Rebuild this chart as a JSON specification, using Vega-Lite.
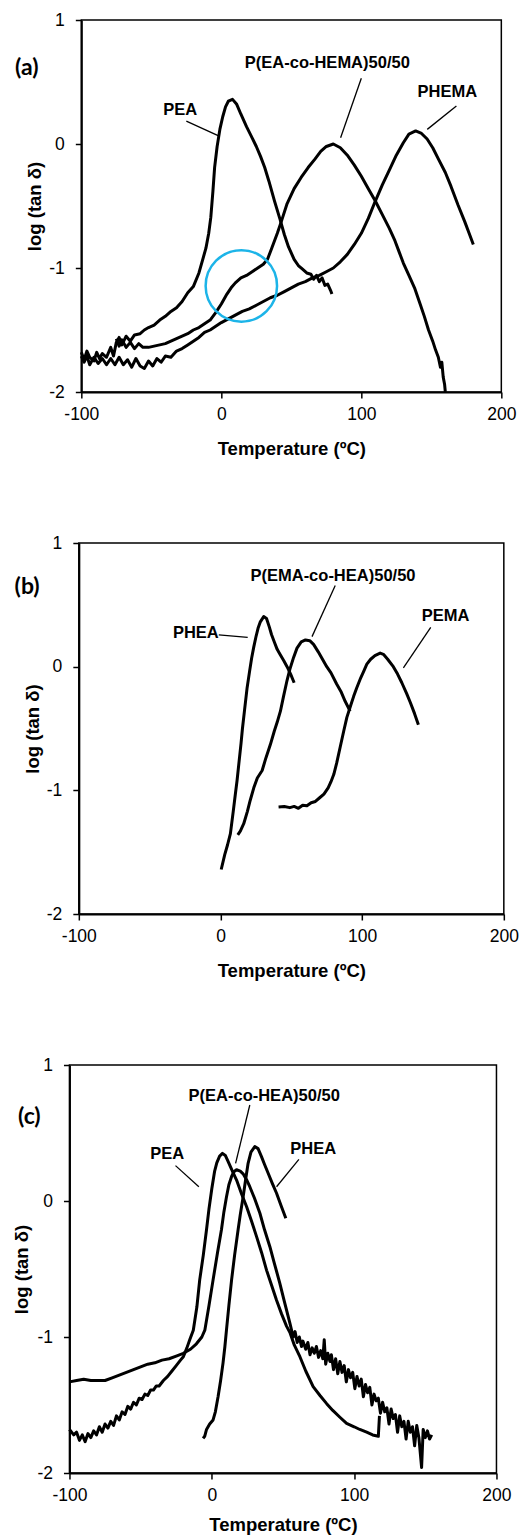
{
"$schema": "https://vega.github.io/schema/vega-lite/v6.json",
"padding": {"left": 12, "top": 10, "right": 2, "bottom": 0},
"spacing": 74,
"center": true,
"config": {
 "view": {"stroke": "black", "strokeWidth": 1.5},
 "axis": {"grid": false, "domainColor": "black", "domainWidth": 2, "tickColor": "black", "tickWidth": 1.5, "tickSize": 6, "labelFont": "Liberation Sans", "labelFontSize": 17.5, "labelColor": "black", "labelFlush": false, "labelOverlap": false, "labelExpr": "'' + datum.value", "titleFont": "Liberation Sans", "titleFontSize": 18.5, "titleFontWeight": "bold", "titleColor": "black"},
 "axisX": {"labelPadding": 7, "titlePadding": 17},
 "axisY": {"labelPadding": 11, "titlePadding": 4}
},
"datasets": {
 "A": [
  {"s":"PEA","x":-100,"y":-1.68},{"s":"PEA","x":-98,"y":-1.74},{"s":"PEA","x":-96,"y":-1.67},{"s":"PEA","x":-94,"y":-1.72},{"s":"PEA","x":-91,"y":-1.75},{"s":"PEA","x":-89,"y":-1.68},{"s":"PEA","x":-87,"y":-1.73},{"s":"PEA","x":-85,"y":-1.69},{"s":"PEA","x":-82,"y":-1.72},{"s":"PEA","x":-79,"y":-1.64},{"s":"PEA","x":-77,"y":-1.71},{"s":"PEA","x":-75,"y":-1.60},{"s":"PEA","x":-73,"y":-1.56},{"s":"PEA","x":-71,"y":-1.62},{"s":"PEA","x":-68,"y":-1.55},{"s":"PEA","x":-65,"y":-1.59},{"s":"PEA","x":-62,"y":-1.54},{"s":"PEA","x":-58,"y":-1.53},{"s":"PEA","x":-55,"y":-1.50},{"s":"PEA","x":-52,"y":-1.48},{"s":"PEA","x":-48,"y":-1.46},{"s":"PEA","x":-44,"y":-1.42},{"s":"PEA","x":-40,"y":-1.39},{"s":"PEA","x":-36,"y":-1.35},{"s":"PEA","x":-32,"y":-1.32},{"s":"PEA","x":-28,"y":-1.27},{"s":"PEA","x":-24,"y":-1.20},{"s":"PEA","x":-20,"y":-1.15},{"s":"PEA","x":-16,"y":-1.04},{"s":"PEA","x":-13,"y":-0.92},{"s":"PEA","x":-11,"y":-0.84},{"s":"PEA","x":-9,"y":-0.72},{"s":"PEA","x":-7.5,"y":-0.59},{"s":"PEA","x":-6,"y":-0.38},{"s":"PEA","x":-4.8,"y":-0.19},{"s":"PEA","x":-3,"y":-0.02},{"s":"PEA","x":-1,"y":0.12},{"s":"PEA","x":1,"y":0.22},{"s":"PEA","x":3,"y":0.30},{"s":"PEA","x":5,"y":0.345},{"s":"PEA","x":8,"y":0.36},{"s":"PEA","x":11,"y":0.32},{"s":"PEA","x":14,"y":0.24},{"s":"PEA","x":18,"y":0.14},{"s":"PEA","x":22,"y":0.05},{"s":"PEA","x":25,"y":-0.02},{"s":"PEA","x":28,"y":-0.10},{"s":"PEA","x":31,"y":-0.19},{"s":"PEA","x":34,"y":-0.30},{"s":"PEA","x":38,"y":-0.46},{"s":"PEA","x":42,"y":-0.61},{"s":"PEA","x":45,"y":-0.73},{"s":"PEA","x":48,"y":-0.83},{"s":"PEA","x":52,"y":-0.93},{"s":"PEA","x":55,"y":-0.98},{"s":"PEA","x":58,"y":-1.01},{"s":"PEA","x":61,"y":-1.04},{"s":"PEA","x":64,"y":-1.05},{"s":"PEA","x":66,"y":-1.09},{"s":"PEA","x":68,"y":-1.06},{"s":"PEA","x":70,"y":-1.11},{"s":"PEA","x":72,"y":-1.08},{"s":"PEA","x":74,"y":-1.14},{"s":"PEA","x":76,"y":-1.13},{"s":"PEA","x":78,"y":-1.18},{"s":"PEA","x":79,"y":-1.21},
  {"s":"CO","x":-75,"y":-1.57},{"s":"CO","x":-73,"y":-1.63},{"s":"CO","x":-71,"y":-1.58},{"s":"CO","x":-68,"y":-1.64},{"s":"CO","x":-65,"y":-1.60},{"s":"CO","x":-62,"y":-1.65},{"s":"CO","x":-59,"y":-1.61},{"s":"CO","x":-56,"y":-1.64},{"s":"CO","x":-52,"y":-1.64},{"s":"CO","x":-48,"y":-1.63},{"s":"CO","x":-44,"y":-1.62},{"s":"CO","x":-40,"y":-1.61},{"s":"CO","x":-36,"y":-1.59},{"s":"CO","x":-32,"y":-1.57},{"s":"CO","x":-28,"y":-1.55},{"s":"CO","x":-24,"y":-1.53},{"s":"CO","x":-20,"y":-1.50},{"s":"CO","x":-16,"y":-1.48},{"s":"CO","x":-12,"y":-1.45},{"s":"CO","x":-8,"y":-1.42},{"s":"CO","x":-4,"y":-1.36},{"s":"CO","x":0,"y":-1.29},{"s":"CO","x":4,"y":-1.21},{"s":"CO","x":7,"y":-1.16},{"s":"CO","x":10,"y":-1.12},{"s":"CO","x":14,"y":-1.08},{"s":"CO","x":18,"y":-1.06},{"s":"CO","x":22,"y":-1.03},{"s":"CO","x":26,"y":-1.00},{"s":"CO","x":30,"y":-0.97},{"s":"CO","x":33,"y":-0.93},{"s":"CO","x":36,"y":-0.84},{"s":"CO","x":40,"y":-0.72},{"s":"CO","x":43,"y":-0.62},{"s":"CO","x":47,"y":-0.48},{"s":"CO","x":52,"y":-0.36},{"s":"CO","x":57,"y":-0.27},{"s":"CO","x":62,"y":-0.19},{"s":"CO","x":67,"y":-0.12},{"s":"CO","x":71,"y":-0.06},{"s":"CO","x":75,"y":-0.02},{"s":"CO","x":80,"y":0.0},{"s":"CO","x":85,"y":-0.03},{"s":"CO","x":90,"y":-0.09},{"s":"CO","x":95,"y":-0.17},{"s":"CO","x":100,"y":-0.26},{"s":"CO","x":105,"y":-0.36},{"s":"CO","x":110,"y":-0.46},{"s":"CO","x":115,"y":-0.57},{"s":"CO","x":120,"y":-0.68},{"s":"CO","x":124,"y":-0.78},{"s":"CO","x":127,"y":-0.87},{"s":"CO","x":130,"y":-0.96},{"s":"CO","x":134,"y":-1.06},{"s":"CO","x":138,"y":-1.16},{"s":"CO","x":142,"y":-1.29},{"s":"CO","x":145,"y":-1.39},{"s":"CO","x":148,"y":-1.50},{"s":"CO","x":151,"y":-1.59},{"s":"CO","x":153,"y":-1.66},{"s":"CO","x":155,"y":-1.72},{"s":"CO","x":156.5,"y":-1.80},{"s":"CO","x":157.5,"y":-1.76},{"s":"CO","x":158.5,"y":-1.88},{"s":"CO","x":159.5,"y":-1.94},{"s":"CO","x":160,"y":-2.0},
  {"s":"PHEMA","x":-100,"y":-1.71},{"s":"PHEMA","x":-98,"y":-1.76},{"s":"PHEMA","x":-96,"y":-1.71},{"s":"PHEMA","x":-94,"y":-1.78},{"s":"PHEMA","x":-91,"y":-1.72},{"s":"PHEMA","x":-88,"y":-1.77},{"s":"PHEMA","x":-85,"y":-1.73},{"s":"PHEMA","x":-82,"y":-1.78},{"s":"PHEMA","x":-79,"y":-1.73},{"s":"PHEMA","x":-76,"y":-1.78},{"s":"PHEMA","x":-73,"y":-1.72},{"s":"PHEMA","x":-70,"y":-1.78},{"s":"PHEMA","x":-67,"y":-1.74},{"s":"PHEMA","x":-64,"y":-1.80},{"s":"PHEMA","x":-61,"y":-1.73},{"s":"PHEMA","x":-58,"y":-1.79},{"s":"PHEMA","x":-55,"y":-1.81},{"s":"PHEMA","x":-52,"y":-1.75},{"s":"PHEMA","x":-49,"y":-1.79},{"s":"PHEMA","x":-46,"y":-1.73},{"s":"PHEMA","x":-43,"y":-1.76},{"s":"PHEMA","x":-40,"y":-1.71},{"s":"PHEMA","x":-36,"y":-1.72},{"s":"PHEMA","x":-32,"y":-1.67},{"s":"PHEMA","x":-28,"y":-1.65},{"s":"PHEMA","x":-24,"y":-1.62},{"s":"PHEMA","x":-20,"y":-1.59},{"s":"PHEMA","x":-16,"y":-1.56},{"s":"PHEMA","x":-12,"y":-1.52},{"s":"PHEMA","x":-8,"y":-1.50},{"s":"PHEMA","x":-4,"y":-1.47},{"s":"PHEMA","x":0,"y":-1.44},{"s":"PHEMA","x":5,"y":-1.41},{"s":"PHEMA","x":10,"y":-1.38},{"s":"PHEMA","x":15,"y":-1.35},{"s":"PHEMA","x":20,"y":-1.33},{"s":"PHEMA","x":25,"y":-1.30},{"s":"PHEMA","x":30,"y":-1.27},{"s":"PHEMA","x":35,"y":-1.24},{"s":"PHEMA","x":40,"y":-1.22},{"s":"PHEMA","x":45,"y":-1.19},{"s":"PHEMA","x":50,"y":-1.16},{"s":"PHEMA","x":55,"y":-1.13},{"s":"PHEMA","x":60,"y":-1.11},{"s":"PHEMA","x":65,"y":-1.08},{"s":"PHEMA","x":70,"y":-1.06},{"s":"PHEMA","x":75,"y":-1.03},{"s":"PHEMA","x":80,"y":-1.0},{"s":"PHEMA","x":85,"y":-0.95},{"s":"PHEMA","x":90,"y":-0.89},{"s":"PHEMA","x":95,"y":-0.81},{"s":"PHEMA","x":100,"y":-0.72},{"s":"PHEMA","x":105,"y":-0.60},{"s":"PHEMA","x":110,"y":-0.46},{"s":"PHEMA","x":115,"y":-0.33},{"s":"PHEMA","x":120,"y":-0.21},{"s":"PHEMA","x":125,"y":-0.09},{"s":"PHEMA","x":130,"y":0.01},{"s":"PHEMA","x":134,"y":0.08},{"s":"PHEMA","x":138.8,"y":0.105},{"s":"PHEMA","x":143,"y":0.085},{"s":"PHEMA","x":147,"y":0.04},{"s":"PHEMA","x":151,"y":-0.03},{"s":"PHEMA","x":155,"y":-0.12},{"s":"PHEMA","x":160,"y":-0.23},{"s":"PHEMA","x":164,"y":-0.34},{"s":"PHEMA","x":169,"y":-0.49},{"s":"PHEMA","x":174,"y":-0.63},{"s":"PHEMA","x":177,"y":-0.72},{"s":"PHEMA","x":180,"y":-0.81}
 ],
 "B": [
  {"s":"PHEA","x":0.5,"y":-1.64},{"s":"PHEA","x":3,"y":-1.52},{"s":"PHEA","x":5,"y":-1.44},{"s":"PHEA","x":7,"y":-1.35},{"s":"PHEA","x":9,"y":-1.17},{"s":"PHEA","x":10.5,"y":-1.03},{"s":"PHEA","x":11.7,"y":-0.92},{"s":"PHEA","x":13,"y":-0.78},{"s":"PHEA","x":14.5,"y":-0.62},{"s":"PHEA","x":15.5,"y":-0.50},{"s":"PHEA","x":17,"y":-0.35},{"s":"PHEA","x":18.8,"y":-0.17},{"s":"PHEA","x":20.5,"y":-0.04},{"s":"PHEA","x":22,"y":0.07},{"s":"PHEA","x":23.5,"y":0.16},{"s":"PHEA","x":25,"y":0.24},{"s":"PHEA","x":26.5,"y":0.31},{"s":"PHEA","x":28,"y":0.36},{"s":"PHEA","x":30.5,"y":0.405},{"s":"PHEA","x":32.5,"y":0.39},{"s":"PHEA","x":34.5,"y":0.32},{"s":"PHEA","x":36,"y":0.26},{"s":"PHEA","x":38,"y":0.20},{"s":"PHEA","x":40,"y":0.14},{"s":"PHEA","x":42,"y":0.10},{"s":"PHEA","x":44.6,"y":0.05},{"s":"PHEA","x":47,"y":0.0},{"s":"PHEA","x":49.5,"y":-0.06},{"s":"PHEA","x":52,"y":-0.13},
  {"s":"CO","x":12.2,"y":-1.36},{"s":"CO","x":14,"y":-1.33},{"s":"CO","x":16.4,"y":-1.27},{"s":"CO","x":19,"y":-1.17},{"s":"CO","x":21,"y":-1.08},{"s":"CO","x":23.5,"y":-0.98},{"s":"CO","x":26,"y":-0.90},{"s":"CO","x":29.4,"y":-0.84},{"s":"CO","x":32,"y":-0.74},{"s":"CO","x":35.2,"y":-0.63},{"s":"CO","x":38,"y":-0.52},{"s":"CO","x":40,"y":-0.45},{"s":"CO","x":42.3,"y":-0.36},{"s":"CO","x":44.5,"y":-0.24},{"s":"CO","x":47,"y":-0.11},{"s":"CO","x":49,"y":-0.02},{"s":"CO","x":51.6,"y":0.075},{"s":"CO","x":54,"y":0.15},{"s":"CO","x":57,"y":0.20},{"s":"CO","x":60,"y":0.216},{"s":"CO","x":63,"y":0.21},{"s":"CO","x":65.7,"y":0.18},{"s":"CO","x":69,"y":0.12},{"s":"CO","x":72,"y":0.06},{"s":"CO","x":75,"y":0.0},{"s":"CO","x":78,"y":-0.05},{"s":"CO","x":82,"y":-0.14},{"s":"CO","x":85,"y":-0.20},{"s":"CO","x":88,"y":-0.28},{"s":"CO","x":91.5,"y":-0.36},
  {"s":"PEMA","x":41,"y":-1.134},{"s":"PEMA","x":45,"y":-1.13},{"s":"PEMA","x":49,"y":-1.14},{"s":"PEMA","x":52,"y":-1.13},{"s":"PEMA","x":55,"y":-1.145},{"s":"PEMA","x":58,"y":-1.12},{"s":"PEMA","x":61,"y":-1.125},{"s":"PEMA","x":64,"y":-1.10},{"s":"PEMA","x":67,"y":-1.09},{"s":"PEMA","x":70,"y":-1.06},{"s":"PEMA","x":73,"y":-1.03},{"s":"PEMA","x":76,"y":-0.98},{"s":"PEMA","x":78,"y":-0.93},{"s":"PEMA","x":80,"y":-0.87},{"s":"PEMA","x":82,"y":-0.78},{"s":"PEMA","x":84.5,"y":-0.65},{"s":"PEMA","x":87,"y":-0.52},{"s":"PEMA","x":89.2,"y":-0.41},{"s":"PEMA","x":92,"y":-0.31},{"s":"PEMA","x":94,"y":-0.24},{"s":"PEMA","x":96.2,"y":-0.17},{"s":"PEMA","x":99,"y":-0.09},{"s":"PEMA","x":101,"y":-0.04},{"s":"PEMA","x":103.3,"y":0.02},{"s":"PEMA","x":106,"y":0.06},{"s":"PEMA","x":109,"y":0.09},{"s":"PEMA","x":112.7,"y":0.11},{"s":"PEMA","x":115,"y":0.10},{"s":"PEMA","x":118,"y":0.06},{"s":"PEMA","x":122,"y":0.0},{"s":"PEMA","x":125,"y":-0.06},{"s":"PEMA","x":128,"y":-0.13},{"s":"PEMA","x":131.5,"y":-0.22},{"s":"PEMA","x":134,"y":-0.29},{"s":"PEMA","x":137,"y":-0.38},{"s":"PEMA","x":139.7,"y":-0.47}
 ],
 "C": [
  {"s":"PEA","x":-100,"y":-1.68},{"s":"PEA","x":-97,"y":-1.72},{"s":"PEA","x":-95,"y":-1.70},{"s":"PEA","x":-93,"y":-1.76},{"s":"PEA","x":-91,"y":-1.72},{"s":"PEA","x":-89,"y":-1.77},{"s":"PEA","x":-87,"y":-1.71},{"s":"PEA","x":-85,"y":-1.74},{"s":"PEA","x":-83,"y":-1.69},{"s":"PEA","x":-81,"y":-1.72},{"s":"PEA","x":-79,"y":-1.66},{"s":"PEA","x":-77,"y":-1.70},{"s":"PEA","x":-75,"y":-1.64},{"s":"PEA","x":-73,"y":-1.67},{"s":"PEA","x":-71,"y":-1.62},{"s":"PEA","x":-69,"y":-1.65},{"s":"PEA","x":-67,"y":-1.58},{"s":"PEA","x":-65,"y":-1.61},{"s":"PEA","x":-63,"y":-1.55},{"s":"PEA","x":-61,"y":-1.57},{"s":"PEA","x":-59,"y":-1.51},{"s":"PEA","x":-57,"y":-1.53},{"s":"PEA","x":-55,"y":-1.48},{"s":"PEA","x":-53,"y":-1.50},{"s":"PEA","x":-51,"y":-1.45},{"s":"PEA","x":-49,"y":-1.46},{"s":"PEA","x":-47,"y":-1.42},{"s":"PEA","x":-45,"y":-1.43},{"s":"PEA","x":-43,"y":-1.39},{"s":"PEA","x":-41,"y":-1.39},{"s":"PEA","x":-39,"y":-1.36},{"s":"PEA","x":-37,"y":-1.36},{"s":"PEA","x":-34,"y":-1.32},{"s":"PEA","x":-31,"y":-1.29},{"s":"PEA","x":-28,"y":-1.25},{"s":"PEA","x":-25,"y":-1.21},{"s":"PEA","x":-22,"y":-1.17},{"s":"PEA","x":-20,"y":-1.145},{"s":"PEA","x":-17.5,"y":-1.08},{"s":"PEA","x":-15.5,"y":-1.02},{"s":"PEA","x":-13,"y":-0.95},{"s":"PEA","x":-10.5,"y":-0.78},{"s":"PEA","x":-8.5,"y":-0.58},{"s":"PEA","x":-6,"y":-0.40},{"s":"PEA","x":-3.7,"y":-0.21},{"s":"PEA","x":-2,"y":-0.06},{"s":"PEA","x":0,"y":0.09},{"s":"PEA","x":2,"y":0.22},{"s":"PEA","x":3.5,"y":0.28},{"s":"PEA","x":5.5,"y":0.33},{"s":"PEA","x":7.5,"y":0.35},{"s":"PEA","x":9.5,"y":0.335},{"s":"PEA","x":11.5,"y":0.29},{"s":"PEA","x":14,"y":0.23},{"s":"PEA","x":17.4,"y":0.154},{"s":"PEA","x":21,"y":0.05},{"s":"PEA","x":24.4,"y":-0.04},{"s":"PEA","x":28,"y":-0.15},{"s":"PEA","x":31.4,"y":-0.26},{"s":"PEA","x":35,"y":-0.38},{"s":"PEA","x":38.5,"y":-0.51},{"s":"PEA","x":42,"y":-0.62},{"s":"PEA","x":45.5,"y":-0.73},{"s":"PEA","x":49,"y":-0.83},{"s":"PEA","x":52.5,"y":-0.92},{"s":"PEA","x":55,"y":-0.97},{"s":"PEA","x":58,"y":-1.06},{"s":"PEA","x":61.9,"y":-1.145},{"s":"PEA","x":66,"y":-1.25},{"s":"PEA","x":71.2,"y":-1.365},{"s":"PEA","x":76,"y":-1.43},{"s":"PEA","x":80.7,"y":-1.49},{"s":"PEA","x":85,"y":-1.54},{"s":"PEA","x":90,"y":-1.59},{"s":"PEA","x":94.7,"y":-1.635},{"s":"PEA","x":100,"y":-1.66},{"s":"PEA","x":104,"y":-1.68},{"s":"PEA","x":108.8,"y":-1.70},{"s":"PEA","x":113,"y":-1.72},{"s":"PEA","x":117,"y":-1.73},{"s":"PEA","x":117.8,"y":-1.58},
  {"s":"CO","x":-100,"y":-1.33},{"s":"CO","x":-95,"y":-1.32},{"s":"CO","x":-90,"y":-1.31},{"s":"CO","x":-85,"y":-1.32},{"s":"CO","x":-80,"y":-1.32},{"s":"CO","x":-75,"y":-1.32},{"s":"CO","x":-70,"y":-1.30},{"s":"CO","x":-65,"y":-1.28},{"s":"CO","x":-60,"y":-1.26},{"s":"CO","x":-55,"y":-1.24},{"s":"CO","x":-50,"y":-1.22},{"s":"CO","x":-45,"y":-1.20},{"s":"CO","x":-40,"y":-1.19},{"s":"CO","x":-35,"y":-1.17},{"s":"CO","x":-30,"y":-1.16},{"s":"CO","x":-25,"y":-1.14},{"s":"CO","x":-20,"y":-1.12},{"s":"CO","x":-15,"y":-1.09},{"s":"CO","x":-10.8,"y":-1.05},{"s":"CO","x":-7,"y":-1.00},{"s":"CO","x":-4.9,"y":-0.95},{"s":"CO","x":-2,"y":-0.77},{"s":"CO","x":0.9,"y":-0.58},{"s":"CO","x":4,"y":-0.38},{"s":"CO","x":6.8,"y":-0.21},{"s":"CO","x":8.5,"y":-0.08},{"s":"CO","x":10.3,"y":0.03},{"s":"CO","x":12,"y":0.12},{"s":"CO","x":13.9,"y":0.18},{"s":"CO","x":15.5,"y":0.215},{"s":"CO","x":17.4,"y":0.23},{"s":"CO","x":20,"y":0.22},{"s":"CO","x":22,"y":0.20},{"s":"CO","x":24.5,"y":0.155},{"s":"CO","x":26.7,"y":0.105},{"s":"CO","x":30,"y":0.02},{"s":"CO","x":33.8,"y":-0.09},{"s":"CO","x":37,"y":-0.21},{"s":"CO","x":40.8,"y":-0.336},{"s":"CO","x":44,"y":-0.46},{"s":"CO","x":47.8,"y":-0.605},{"s":"CO","x":51,"y":-0.74},{"s":"CO","x":54.9,"y":-0.90},{"s":"CO","x":57.2,"y":-1.0},{"s":"CO","x":58.5,"y":-0.96},{"s":"CO","x":60,"y":-1.04},{"s":"CO","x":61.5,"y":-1.00},{"s":"CO","x":63,"y":-1.07},{"s":"CO","x":64,"y":-1.03},{"s":"CO","x":66,"y":-1.09},{"s":"CO","x":67.5,"y":-1.04},{"s":"CO","x":69,"y":-1.13},{"s":"CO","x":70.5,"y":-1.08},{"s":"CO","x":72,"y":-1.12},{"s":"CO","x":73.5,"y":-1.07},{"s":"CO","x":75,"y":-1.15},{"s":"CO","x":76.5,"y":-1.10},{"s":"CO","x":78,"y":-1.16},{"s":"CO","x":79,"y":-1.02},{"s":"CO","x":80,"y":-1.20},{"s":"CO","x":81.5,"y":-1.12},{"s":"CO","x":83,"y":-1.18},{"s":"CO","x":84,"y":-1.13},{"s":"CO","x":85.5,"y":-1.24},{"s":"CO","x":87,"y":-1.16},{"s":"CO","x":88.5,"y":-1.27},{"s":"CO","x":90,"y":-1.18},{"s":"CO","x":91.5,"y":-1.26},{"s":"CO","x":93,"y":-1.21},{"s":"CO","x":94.5,"y":-1.33},{"s":"CO","x":96,"y":-1.24},{"s":"CO","x":97.5,"y":-1.30},{"s":"CO","x":99,"y":-1.26},{"s":"CO","x":100.5,"y":-1.38},{"s":"CO","x":102,"y":-1.29},{"s":"CO","x":103.5,"y":-1.36},{"s":"CO","x":105,"y":-1.31},{"s":"CO","x":106.5,"y":-1.44},{"s":"CO","x":108,"y":-1.35},{"s":"CO","x":109.5,"y":-1.41},{"s":"CO","x":111,"y":-1.37},{"s":"CO","x":112.5,"y":-1.50},{"s":"CO","x":114,"y":-1.42},{"s":"CO","x":115.5,"y":-1.47},{"s":"CO","x":117,"y":-1.45},{"s":"CO","x":118.5,"y":-1.56},{"s":"CO","x":120,"y":-1.48},{"s":"CO","x":121.5,"y":-1.55},{"s":"CO","x":123,"y":-1.52},{"s":"CO","x":124.5,"y":-1.64},{"s":"CO","x":126,"y":-1.53},{"s":"CO","x":127.5,"y":-1.60},{"s":"CO","x":129,"y":-1.57},{"s":"CO","x":130.5,"y":-1.70},{"s":"CO","x":132,"y":-1.58},{"s":"CO","x":133.5,"y":-1.66},{"s":"CO","x":135,"y":-1.62},{"s":"CO","x":136.5,"y":-1.75},{"s":"CO","x":138,"y":-1.62},{"s":"CO","x":139.5,"y":-1.70},{"s":"CO","x":141,"y":-1.66},{"s":"CO","x":142.5,"y":-1.80},{"s":"CO","x":144,"y":-1.65},{"s":"CO","x":145.5,"y":-1.74},{"s":"CO","x":147.4,"y":-1.96},{"s":"CO","x":148.5,"y":-1.68},{"s":"CO","x":150,"y":-1.74},{"s":"CO","x":151.5,"y":-1.69},{"s":"CO","x":153,"y":-1.75},{"s":"CO","x":154.5,"y":-1.72},
  {"s":"PHEA","x":-6.1,"y":-1.745},{"s":"PHEA","x":-5,"y":-1.73},{"s":"PHEA","x":-3.7,"y":-1.68},{"s":"PHEA","x":-1.5,"y":-1.64},{"s":"PHEA","x":0.9,"y":-1.61},{"s":"PHEA","x":2.5,"y":-1.55},{"s":"PHEA","x":4.4,"y":-1.44},{"s":"PHEA","x":6.2,"y":-1.32},{"s":"PHEA","x":7.9,"y":-1.19},{"s":"PHEA","x":9.2,"y":-1.07},{"s":"PHEA","x":10.3,"y":-0.95},{"s":"PHEA","x":12,"y":-0.77},{"s":"PHEA","x":13.9,"y":-0.58},{"s":"PHEA","x":16,"y":-0.40},{"s":"PHEA","x":18.5,"y":-0.21},{"s":"PHEA","x":20,"y":-0.10},{"s":"PHEA","x":22,"y":0.03},{"s":"PHEA","x":23.8,"y":0.16},{"s":"PHEA","x":25.5,"y":0.277},{"s":"PHEA","x":27.5,"y":0.36},{"s":"PHEA","x":30.2,"y":0.40},{"s":"PHEA","x":32.5,"y":0.385},{"s":"PHEA","x":34.9,"y":0.326},{"s":"PHEA","x":37,"y":0.27},{"s":"PHEA","x":39.6,"y":0.204},{"s":"PHEA","x":42.5,"y":0.13},{"s":"PHEA","x":45.5,"y":0.057},{"s":"PHEA","x":48.5,"y":-0.03},{"s":"PHEA","x":52,"y":-0.127}
 ],
 "labA": [{"t":"PEA","x":-29.3,"y":0.272},{"t":"P(EA-co-HEMA)50/50","x":75.7,"y":0.656},{"t":"PHEMA","x":161.4,"y":0.422}],
 "leadA": [{"x":-25,"y":0.185,"x2":-1.9,"y2":0.065},{"x":100,"y":0.53,"x2":85.2,"y2":0.05},{"x":167.9,"y":0.306,"x2":147.1,"y2":0.118}],
 "panA": [{"t":"(a)","x":-139,"y":0.615}],
 "circA": [{"x":14.3,"y":-1.145}],
 "labB": [{"t":"PHEA","x":-17.4,"y":0.27},{"t":"P(EMA-co-HEA)50/50","x":79.4,"y":0.737},{"t":"PEMA","x":158.9,"y":0.407}],
 "leadB": [{"x":-1.2,"y":0.257,"x2":19.2,"y2":0.237},{"x":81,"y":0.656,"x2":64.6,"y2":0.243},{"x":148.4,"y":0.318,"x2":129.1,"y2":-0.01}],
 "panB": [{"t":"(b)","x":-136.5,"y":0.642}],
 "labC": [{"t":"P(EA-co-HEA)50/50","x":36.8,"y":0.774},{"t":"PEA","x":-31.4,"y":0.343},{"t":"PHEA","x":71.2,"y":0.382}],
 "leadC": [{"x":26.7,"y":0.706,"x2":16.7,"y2":0.277},{"x":-25.5,"y":0.26,"x2":-9.1,"y2":0.105},{"x":61.2,"y":0.306,"x2":45.5,"y2":0.105}],
 "panC": [{"t":"(c)","x":-128.2,"y":0.615}],
 "padC": [{"t":" ","x":222,"y":0}]
},
"vconcat": [
 {
  "width": 420, "height": 372,
  "encoding": {
   "x": {"field": "x", "type": "quantitative", "scale": {"domain": [-100, 200], "nice": false}, "axis": {"values": [-100, 0, 100, 200], "title": "Temperature (ºC)"}},
   "y": {"field": "y", "type": "quantitative", "scale": {"domain": [-2, 1], "nice": false}, "axis": {"values": [-2, -1, 0, 1], "title": "log (tan δ)"}}
  },
  "layer": [
   {"data": {"name": "A"}, "mark": {"type": "line", "color": "black", "strokeWidth": 3, "strokeJoin": "round"}, "encoding": {"detail": {"field": "s"}}},
   {"data": {"name": "leadA"}, "mark": {"type": "rule", "color": "black", "strokeWidth": 1.3}, "encoding": {"x2": {"field": "x2"}, "y2": {"field": "y2"}}},
   {"data": {"name": "labA"}, "mark": {"type": "text", "font": "Liberation Sans", "fontWeight": "bold", "fontSize": 16.5, "color": "black"}, "encoding": {"text": {"field": "t"}}},
   {"data": {"name": "panA"}, "mark": {"type": "text", "font": "Lato", "fontWeight": "bold", "fontSize": 23, "color": "black"}, "encoding": {"text": {"field": "t"}}},
   {"data": {"name": "circA"}, "mark": {"type": "point", "shape": "circle", "size": 5100, "filled": false, "stroke": "#1CB4E8", "strokeWidth": 2.5, "opacity": 1}}
  ]
 },
 {
  "width": 425, "height": 371,
  "encoding": {
   "x": {"field": "x", "type": "quantitative", "scale": {"domain": [-100, 200], "nice": false}, "axis": {"values": [-100, 0, 100, 200], "title": "Temperature (ºC)"}},
   "y": {"field": "y", "type": "quantitative", "scale": {"domain": [-2, 1], "nice": false}, "axis": {"values": [-2, -1, 0, 1], "title": "log (tan δ)"}}
  },
  "layer": [
   {"data": {"name": "B"}, "mark": {"type": "line", "color": "black", "strokeWidth": 3, "strokeJoin": "round"}, "encoding": {"detail": {"field": "s"}}},
   {"data": {"name": "leadB"}, "mark": {"type": "rule", "color": "black", "strokeWidth": 1.3}, "encoding": {"x2": {"field": "x2"}, "y2": {"field": "y2"}}},
   {"data": {"name": "labB"}, "mark": {"type": "text", "font": "Liberation Sans", "fontWeight": "bold", "fontSize": 16.5, "color": "black"}, "encoding": {"text": {"field": "t"}}},
   {"data": {"name": "panB"}, "mark": {"type": "text", "font": "Lato", "fontWeight": "bold", "fontSize": 23, "color": "black"}, "encoding": {"text": {"field": "t"}}}
  ]
 },
 {
  "width": 427, "height": 408,
  "encoding": {
   "x": {"field": "x", "type": "quantitative", "scale": {"domain": [-100, 200], "nice": false}, "axis": {"values": [-100, 0, 100, 200], "title": "Temperature (ºC)", "titlePadding": 12}},
   "y": {"field": "y", "type": "quantitative", "scale": {"domain": [-2, 1], "nice": false}, "axis": {"values": [-2, -1, 0, 1], "title": "log (tan δ)", "titlePadding": 5}}
  },
  "layer": [
   {"data": {"name": "C"}, "mark": {"type": "line", "color": "black", "strokeWidth": 3, "strokeJoin": "round"}, "encoding": {"detail": {"field": "s"}}},
   {"data": {"name": "leadC"}, "mark": {"type": "rule", "color": "black", "strokeWidth": 1.3}, "encoding": {"x2": {"field": "x2"}, "y2": {"field": "y2"}}},
   {"data": {"name": "labC"}, "mark": {"type": "text", "font": "Liberation Sans", "fontWeight": "bold", "fontSize": 16.5, "color": "black"}, "encoding": {"text": {"field": "t"}}},
   {"data": {"name": "panC"}, "mark": {"type": "text", "font": "Lato", "fontWeight": "bold", "fontSize": 23, "color": "black"}, "encoding": {"text": {"field": "t"}}},
   {"data": {"name": "padC"}, "mark": {"type": "text", "font": "Liberation Sans", "fontSize": 16.5, "align": "right"}, "encoding": {"text": {"field": "t"}}}
  ]
 }
]
}
